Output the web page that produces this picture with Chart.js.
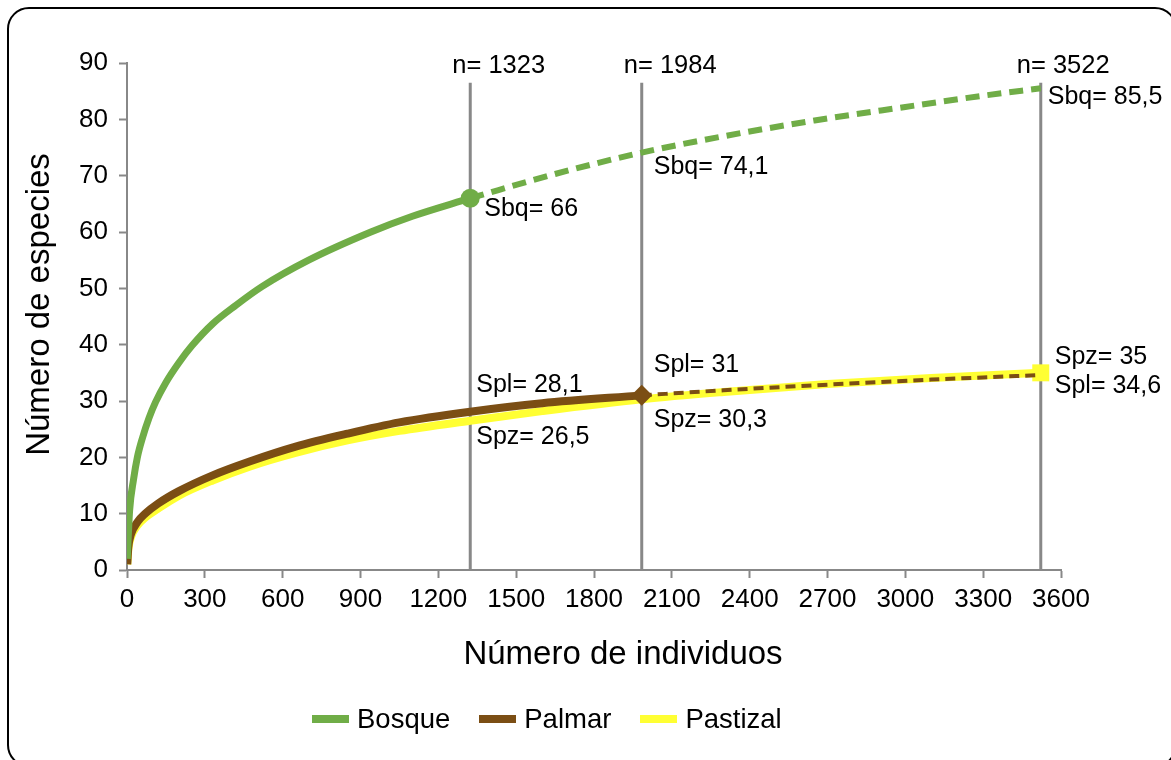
<!DOCTYPE html>
<html lang="es">
<head>
<meta charset="UTF-8">
<title>Curvas de rarefacción</title>
<script src="https://cdn.jsdelivr.net/npm/chart.js"></script>
<style>
    html, body { margin: 0; padding: 0; background: #fff; overflow: hidden; }
    body { width: 1171px; height: 760px; position: relative; font-family: "Liberation Sans", Arial, sans-serif; }
    .marco {
        position: absolute; left: 7px; top: 7px; width: 1170px; height: 760px;
        border: 2px solid #000; border-radius: 22px; box-sizing: border-box;
    }
    #grafico { position: absolute; left: 0; top: 0; }
    .leyenda {
        position: absolute; left: 312px; top: 703px; display: flex; align-items: center;
        font-size: 27.5px; color: #000;
    }
    .item { display: flex; align-items: center; margin-right: 29px; }
    .item span.muestra { width: 37px; height: 8px; margin-right: 8px; display: inline-block; }
</style>
</head>
<body>
<div class="marco"></div>
<canvas id="grafico" width="1171" height="760"></canvas>
<div class="leyenda">
    <div class="item"><span class="muestra" style="background:#70ad47"></span>Bosque</div>
    <div class="item"><span class="muestra" style="background:#7b4e14"></span>Palmar</div>
    <div class="item"><span class="muestra" style="background:#ffff33"></span>Pastizal</div>
</div>

<script>
    // curvas observadas (rarefacción)
    const bosqueN = [1, 10, 25, 40, 60, 85, 110, 150, 200, 250, 330, 420, 520, 700, 940, 1100, 1323];
    const bosqueS = [2, 10.5, 16, 20, 23.5, 27, 29.8, 33.3, 36.8, 39.8, 43.7, 47, 50.3, 55, 60, 62.8, 66];
    const palmarN = [1, 5, 15, 40, 70, 120, 200, 330, 475, 650, 850, 1050, 1323, 1600, 1984];
    const palmarS = [1, 4, 6.3, 8.5, 10, 11.8, 14, 16.8, 19.3, 21.9, 24.2, 26.2, 28.1, 29.6, 31];
    const pastizalN = [1, 5, 15, 40, 70, 120, 200, 330, 475, 650, 850, 1050, 1323, 1600, 1984, 2300, 2700, 3100, 3522];
    const pastizalS = [1, 3.6, 5.8, 7.9, 9.3, 10.9, 13.2, 15.9, 18.4, 20.8, 23, 24.7, 26.5, 28.2, 30.3, 31.6, 33, 34.1, 35];

    // extrapolación
    const bosqueExtN = [1323, 1650, 1984, 2300, 2650, 3000, 3300, 3522];
    const bosqueExtS = [66, 70.3, 74.1, 77, 79.8, 82.2, 84.2, 85.5];
    const palmarExtN = [1984, 2300, 2700, 3100, 3522];
    const palmarExtS = [31, 31.9, 32.9, 33.8, 34.6];

    // tamaños de muestra marcados
    const nMarcas = [1323, 1984, 3522];
    const alturaMarca = 86.5;

    // etiquetas de riqueza
    const etiquetas = [
        { n: 1323, s: 66, pref: 'Sbq= ', dx: 14, dy: 11 },
        { n: 1984, s: 74.1, pref: 'Sbq= ', dx: 12, dy: 15 },
        { n: 3522, s: 85.5, pref: 'Sbq= ', dx: 7, dy: 9 },
        { n: 1323, s: 28.1, pref: 'Spl= ', dx: 6, dy: -27 },
        { n: 1323, s: 26.5, pref: 'Spz= ', dx: 6, dy: 16 },
        { n: 1984, s: 31, pref: 'Spl= ', dx: 12, dy: -30 },
        { n: 1984, s: 30.3, pref: 'Spz= ', dx: 12, dy: 21 },
        { n: 3522, s: 35, pref: 'Spz= ', dx: 14, dy: -16 },
        { n: 3522, s: 34.6, pref: 'Spl= ', dx: 14, dy: 11 }
    ];

    const verde = '#70ad47';
    const cafe = '#7b4e14';
    const amarillo = '#ffff33';
    const gris = '#888888';
    const fuente = '"Liberation Sans", Arial, sans-serif';

    function puntos(xs, ys) {
        return xs.map((x, i) => ({ x: x, y: ys[i] }));
    }

    function soloUltimo(xs, r) {
        return xs.map((_, i) => i === xs.length - 1 ? r : 0);
    }

    function formato(v) {
        return String(v).replace('.', ',');
    }

    const marcasPlugin = {
        id: 'marcas',
        beforeDatasetsDraw(chart) {
            const ctx = chart.ctx;
            const x = chart.scales.x, y = chart.scales.y;
            ctx.save();
            ctx.strokeStyle = gris;
            ctx.lineWidth = 3;
            nMarcas.forEach(n => {
                const px = x.getPixelForValue(n);
                ctx.beginPath();
                ctx.moveTo(px, y.getPixelForValue(0));
                ctx.lineTo(px, y.getPixelForValue(alturaMarca));
                ctx.stroke();
            });
            ctx.restore();
        },
        afterDraw(chart) {
            const ctx = chart.ctx;
            const x = chart.scales.x, y = chart.scales.y;
            const area = chart.chartArea;
            ctx.save();
            ctx.fillStyle = '#000';
            ctx.textBaseline = 'middle';

            // n= sobre cada línea
            ctx.font = '25.5px ' + fuente;
            ctx.textAlign = 'left';
            nMarcas.forEach((n, i) => {
                const px = x.getPixelForValue(n);
                const top = y.getPixelForValue(alturaMarca);
                ctx.fillText('n= ' + n, px - (i === 2 ? 24 : 18), top - 17);
            });

            ctx.font = '25px ' + fuente;
            etiquetas.forEach(e => {
                ctx.fillText(e.pref + formato(e.s), x.getPixelForValue(e.n) + e.dx, y.getPixelForValue(e.s) + e.dy);
            });

            // títulos de ejes
            ctx.font = '33px ' + fuente;
            ctx.textAlign = 'center';
            ctx.fillText('Número de individuos', (area.left + area.right) / 2 + 29, 655);
            ctx.translate(40, (area.top + area.bottom) / 2 - 12);
            ctx.rotate(-Math.PI / 2);
            ctx.fillText('Número de especies', 0, 0);
            ctx.restore();
        }
    };

    const config = {
        type: 'line',
        data: {
            datasets: [
                {
                    label: 'Bosque',
                    data: puntos(bosqueN, bosqueS),
                    borderColor: verde,
                    backgroundColor: verde,
                    borderWidth: 7,
                    pointRadius: soloUltimo(bosqueN, 9.5),
                    pointBorderWidth: 0,
                    cubicInterpolationMode: 'monotone'
                },
                {
                    label: 'Bosque ext',
                    data: puntos(bosqueExtN, bosqueExtS),
                    borderColor: verde,
                    borderWidth: 6,
                    borderDash: [14, 8],
                    pointRadius: 0,
                    cubicInterpolationMode: 'monotone'
                },
                {
                    label: 'Palmar',
                    data: puntos(palmarN, palmarS),
                    borderColor: cafe,
                    backgroundColor: cafe,
                    borderWidth: 8,
                    pointStyle: 'rectRot',
                    pointRadius: soloUltimo(palmarN, 10.5),
                    pointBorderWidth: 0,
                    cubicInterpolationMode: 'monotone'
                },
                {
                    label: 'Palmar ext',
                    data: puntos(palmarExtN, palmarExtS),
                    borderColor: cafe,
                    borderWidth: 4,
                    borderDash: [10, 6],
                    pointRadius: 0,
                    cubicInterpolationMode: 'monotone'
                },
                {
                    label: 'Pastizal',
                    data: puntos(pastizalN, pastizalS),
                    borderColor: amarillo,
                    backgroundColor: amarillo,
                    borderWidth: 8,
                    pointStyle: 'rect',
                    pointRadius: soloUltimo(pastizalN, 12),
                    pointBorderWidth: 0,
                    cubicInterpolationMode: 'monotone'
                }
            ]
        },
        options: {
            responsive: false,
            animation: false,
            devicePixelRatio: 1,
            layout: { padding: { left: 0, right: 110, top: 63, bottom: 0 } },
            plugins: {
                legend: { display: false },
                tooltip: { enabled: false }
            },
            scales: {
                x: {
                    type: 'linear',
                    min: 0,
                    max: 3600,
                    afterFit(scale) { scale.height = 190; },
                    ticks: {
                        stepSize: 300,
                        padding: 6,
                        color: '#000',
                        font: { family: fuente, size: 26 },
                        callback: v => String(v)
                    },
                    grid: {
                        drawOnChartArea: false,
                        tickLength: 8,
                        tickWidth: 2,
                        tickColor: gris
                    },
                    border: { color: gris, width: 2 }
                },
                y: {
                    min: 0,
                    max: 90,
                    afterFit(scale) { scale.width = 127; },
                    ticks: {
                        stepSize: 10,
                        padding: 11,
                        color: '#000',
                        font: { family: fuente, size: 26 }
                    },
                    grid: {
                        drawOnChartArea: false,
                        tickLength: 8,
                        tickWidth: 2,
                        tickColor: gris
                    },
                    border: { color: gris, width: 2 }
                }
            }
        },
        plugins: [marcasPlugin]
    };

    let grafico = new Chart(document.getElementById('grafico'), config);
</script>
</body>
</html>
